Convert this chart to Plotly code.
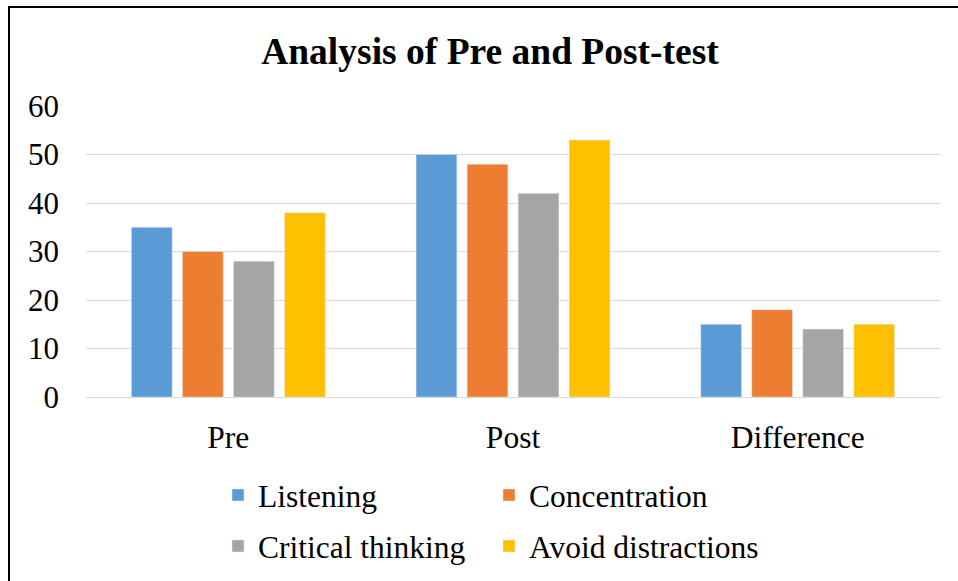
import plotly.graph_objects as go

categories = ["Pre", "Post", "Difference"]
series_names = ["Listening", "Concentration", "Critical thinking", "Avoid distractions"]
listening = [35, 50, 15]
concentration = [30, 48, 18]
critical_thinking = [28, 42, 14]
avoid_distractions = [38, 53, 15]
colors = ["#5B9BD5", "#ED7D31", "#A5A5A5", "#FFC000"]
y_ticks = [0, 10, 20, 30, 40, 50, 60]

FONT = "Liberation Serif, Times New Roman, serif"
values = [listening, concentration, critical_thinking, avoid_distractions]
legend_ids = ["legend", "legend", "legend2", "legend2"]

fig = go.Figure()
for name, vals, col, lg in zip(series_names, values, colors, legend_ids):
    fig.add_trace(go.Bar(x=categories, y=vals, name=name, marker_color=col,
                         legend=lg))

W, H = 958, 581
L, R, T, B = 86, 18, 106, 184
pw = W - L - R
ph = H - T - B

def px_to_paper_x(px):
    return (px - L) / pw

def px_to_paper_y(py):
    return (H - B - py) / ph

legend_common = dict(orientation="h", xanchor="left", yanchor="middle",
                     font=dict(family=FONT, size=31.5, color="#000000"),
                     entrywidth=226, entrywidthmode="pixels",
                     bgcolor="rgba(0,0,0,0)", itemclick=False)

fig.update_layout(
    width=W, height=H,
    margin=dict(l=L, r=R, t=T, b=B, autoexpand=False),
    paper_bgcolor="white", plot_bgcolor="white",
    barmode="group", bargap=0.283, bargroupgap=0.2,
    title=dict(text="<b>Analysis of Pre and Post-test</b>",
               font=dict(family=FONT, size=37.5, color="#000000"),
               x=490 / W, xanchor="center", xref="container",
               y=1 - 51 / H, yanchor="middle", yref="container"),
    xaxis=dict(tickfont=dict(family=FONT, size=31.5, color="#000000"),
               showgrid=False, showline=False, ticks="",
               ticklabelstandoff=18),
    yaxis=dict(range=[0, 60], tickvals=y_ticks,
               tickfont=dict(family=FONT, size=31, color="#000000"),
               showgrid=True, gridcolor="#D9D9D9", gridwidth=1.3,
               zeroline=True, zerolinecolor="#D9D9D9", zerolinewidth=1.3,
               showline=False, ticks="", ticklabelstandoff=26),
    legend=dict(x=px_to_paper_x(218), y=px_to_paper_y(495), **legend_common),
    legend2=dict(x=px_to_paper_x(218), y=px_to_paper_y(546), **legend_common),
    shapes=[dict(type="rect", xref="paper", yref="paper",
                 x0=px_to_paper_x(9), x1=px_to_paper_x(1000),
                 y0=px_to_paper_y(620), y1=px_to_paper_y(7),
                 line=dict(color="#000000", width=2), fillcolor="rgba(0,0,0,0)",
                 layer="below")],
)

fig.write_html("out.html", config={"displayModeBar": False},
               post_script="document.body.style.margin='0';document.body.style.overflow='hidden';")
